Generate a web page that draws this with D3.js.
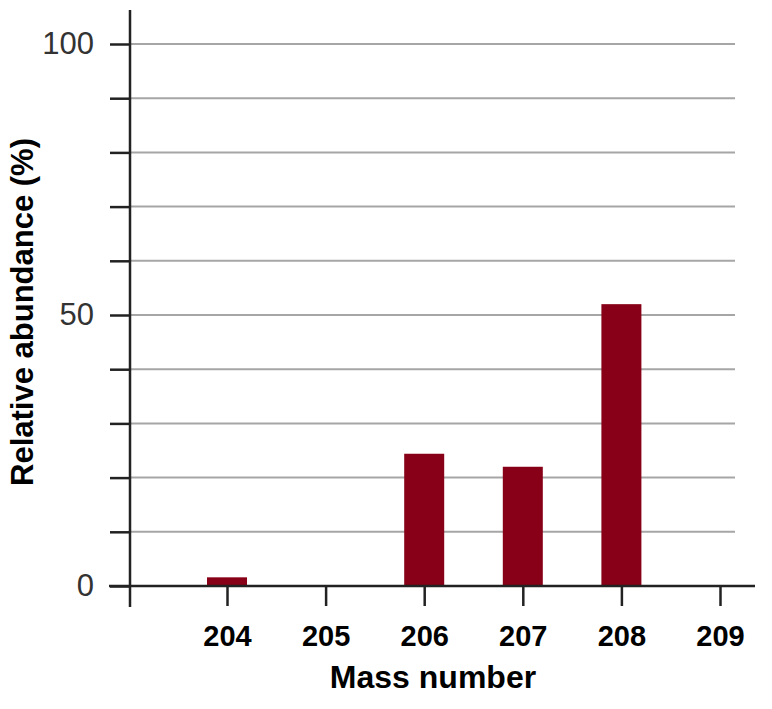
<!DOCTYPE html>
<html>
<head>
<meta charset="utf-8">
<script src="https://cdn.jsdelivr.net/npm/d3@7"></script>
<style>
  body { margin: 0; background: #fff; }
  svg { font-family: "Liberation Sans", Arial, sans-serif; }
</style>
</head>
<body>
<script>
"use strict";

const massNumbers = [204, 206, 207, 208];
const abundance = [1.6, 24.4, 22.0, 52.0];
const xTicks = [204, 205, 206, 207, 208, 209];
const yTicks = [0, 10, 20, 30, 40, 50, 60, 70, 80, 90, 100];
const yLabels = [0, 50, 100];

const width = 772;
const height = 709;

const svg = d3.select("body").append("svg")
  .attr("width", width)
  .attr("height", height);

const x = d3.scaleLinear().domain([204, 209]).range([227, 720]);
const y = d3.scaleLinear().domain([0, 100]).range([586, 44]);

// gridlines
svg.append("g")
  .selectAll("line")
  .data(yTicks.slice(1))
  .enter()
  .append("line")
  .attr("x1", 130)
  .attr("x2", 735)
  .attr("y1", d => y(d))
  .attr("y2", d => y(d))
  .attr("stroke", "#a6a6a6")
  .attr("stroke-width", 2);

// bars
svg.append("g")
  .selectAll("rect")
  .data(massNumbers)
  .enter()
  .append("rect")
  .attr("x", d => x(d) - 20)
  .attr("width", 40)
  .attr("y", (d, i) => y(abundance[i]))
  .attr("height", (d, i) => y(0) - y(abundance[i]))
  .attr("fill", "#870017");

// y axis
const yAxis = svg.append("g")
  .attr("transform", "translate(130,0)")
  .call(d3.axisLeft(y)
    .tickValues(yTicks)
    .tickSize(20)
    .tickPadding(16)
    .tickFormat(d => yLabels.includes(d) ? d : ""));
yAxis.select(".domain").remove();
yAxis.selectAll(".tick line").attr("stroke", "#222").attr("stroke-width", 2.5);
yAxis.selectAll("text")
  .attr("font-size", 31)
  .attr("fill", "#333")
  .attr("font-family", "Liberation Sans, Arial, sans-serif");

// x axis
const xAxis = svg.append("g")
  .attr("transform", "translate(0,586)")
  .call(d3.axisBottom(x)
    .tickValues(xTicks)
    .tickSize(20)
    .tickPadding(19)
    .tickFormat(d3.format("d")));
xAxis.select(".domain").remove();
xAxis.selectAll(".tick line").attr("stroke", "#222").attr("stroke-width", 2.5);
xAxis.selectAll("text")
  .attr("font-size", 29)
  .attr("font-weight", "bold")
  .attr("fill", "#000")
  .attr("font-family", "Liberation Sans, Arial, sans-serif");

// axis lines
svg.append("line")
  .attr("x1", 130).attr("x2", 130)
  .attr("y1", 10).attr("y2", 607)
  .attr("stroke", "#222").attr("stroke-width", 2.5);
svg.append("line")
  .attr("x1", 109).attr("x2", 755)
  .attr("y1", 586).attr("y2", 586)
  .attr("stroke", "#222").attr("stroke-width", 2.5);

// axis titles
svg.append("text")
  .attr("x", 433)
  .attr("y", 688)
  .attr("text-anchor", "middle")
  .attr("font-size", 32)
  .attr("font-weight", "bold")
  .text("Mass number");

svg.append("text")
  .attr("transform", "translate(33,312) rotate(-90)")
  .attr("text-anchor", "middle")
  .attr("font-size", 31)
  .attr("font-weight", "bold")
  .text("Relative abundance (%)");
</script>
</body>
</html>
